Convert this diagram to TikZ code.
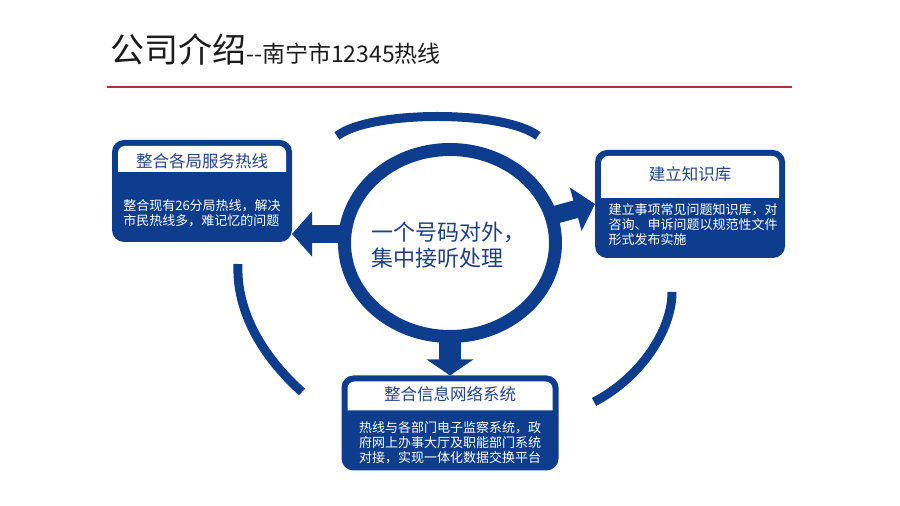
\documentclass[tikz,border=0pt]{standalone}
\usepackage{fontspec}
\setmainfont{Noto Sans CJK SC}
\usetikzlibrary{shapes.geometric,arrows.meta}
\definecolor{mainblue}{RGB}{13,61,140}
\definecolor{bandblue}{RGB}{35,68,140}
\definecolor{hubblue}{RGB}{32,62,132}
\definecolor{rulered}{RGB}{168,52,44}
\definecolor{headgray}{RGB}{28,28,28}
\tikzset{
  infobox/.style={fill=mainblue, rounded corners=12pt, inner sep=0pt, outer sep=0pt},
  bandtitle/.style={text=bandblue, font=\fontsize{16.5}{18}\selectfont, inner sep=0pt},
  bodytext/.style={text=white, align=left, font=\fontsize{13}{15}\selectfont, inner sep=0pt},
  bigarrow/.style={mainblue, line width=18pt, -{Triangle[width=44pt,length=20pt]}},
  outerarc/.style={mainblue, line width=9pt},
}
\begin{document}
\begin{tikzpicture}[x=1pt,y=1pt]
    \useasboundingbox (0,0) rectangle (900,506);
    % heading
    \node[anchor=base west, inner sep=0pt, text=headgray, font=\fontsize{34}{34}\selectfont] (head) at (110,443)
      {公司介绍{\fontsize{23}{23}\selectfont -{}-南宁市12345热线}};
    \draw[rulered, line width=2.5pt] (107,419) -- (792,419);
    % the three boxes
    \node[infobox, minimum width=180pt, minimum height=102pt] (svc) at (202,315) {};
    \node[infobox, minimum width=190pt, minimum height=108pt] (know) at (690,302) {};
    \node[infobox, minimum width=217pt, minimum height=95pt] (net) at (450,83) {};
    \foreach \b/\h in {svc/26,know/42,net/29}
      \fill[white] ([xshift=6,yshift=-6-\h]\b.north west) -- ([xshift=6,yshift=-13]\b.north west)
        arc[start angle=180, end angle=90, radius=7] -- ([xshift=-13,yshift=-6]\b.north east)
        arc[start angle=90, end angle=0, radius=7] -- ([xshift=-6,yshift=-6-\h]\b.north east) -- cycle;
    \node[bandtitle] (svcT) at ([yshift=-21]svc.north) {整合各局服务热线};
    \node[bandtitle] (knowT) at ([yshift=-24]know.north) {建立知识库};
    \node[bandtitle] (netT) at ([yshift=-19]net.north) {整合信息网络系统};
    \node[bodytext] (svcB) at ([yshift=-22]svc.center) {整合现有26分局热线，解决\\市民热线多，难记忆的问题};
    \node[bodytext] (knowB) at ([xshift=3,yshift=-21]know.center) {建立事项常见问题知识库，对\\咨询、申诉问题以规范性文件\\形式发布实施};
    \node[bodytext] (netB) at ([yshift=-20]net.center) {热线与各部门电子监察系统，政\\府网上办事大厅及职能部门系统\\对接，实现一体化数据交换平台};
    % centre ring
    \node[ellipse, draw=mainblue, line width=13pt, minimum width=211pt, minimum height=187pt,
      inner sep=0pt, outer sep=0pt] (hub) at (450,263) {};
    \node[text=hubblue, align=left, inner sep=0pt, font=\fontsize{22}{26}\selectfont] (hubT) at (448,261)
      {一个号码对外，\\集中接听处理};
    % arrows out of the ring
    \draw[bigarrow] ([yshift=9]hub.west) -- ([yshift=-43]svc.east);
    \draw[bigarrow] (hub.15) -- (know.west);
    \draw[bigarrow, line width=22pt, -{Triangle[width=46pt,length=16pt]}] (hub.south) -- (net.north);
    % outer arcs
    \draw[outerarc] (337,370) .. controls (370,396) and (505,396) .. (538,370);
    \draw[outerarc] (238,242) .. controls (236,195) and (262,150) .. (302,114);
    \draw[outerarc] (672,214) .. controls (672,175) and (640,128) .. (594,104);
\end{tikzpicture}
\end{document}
